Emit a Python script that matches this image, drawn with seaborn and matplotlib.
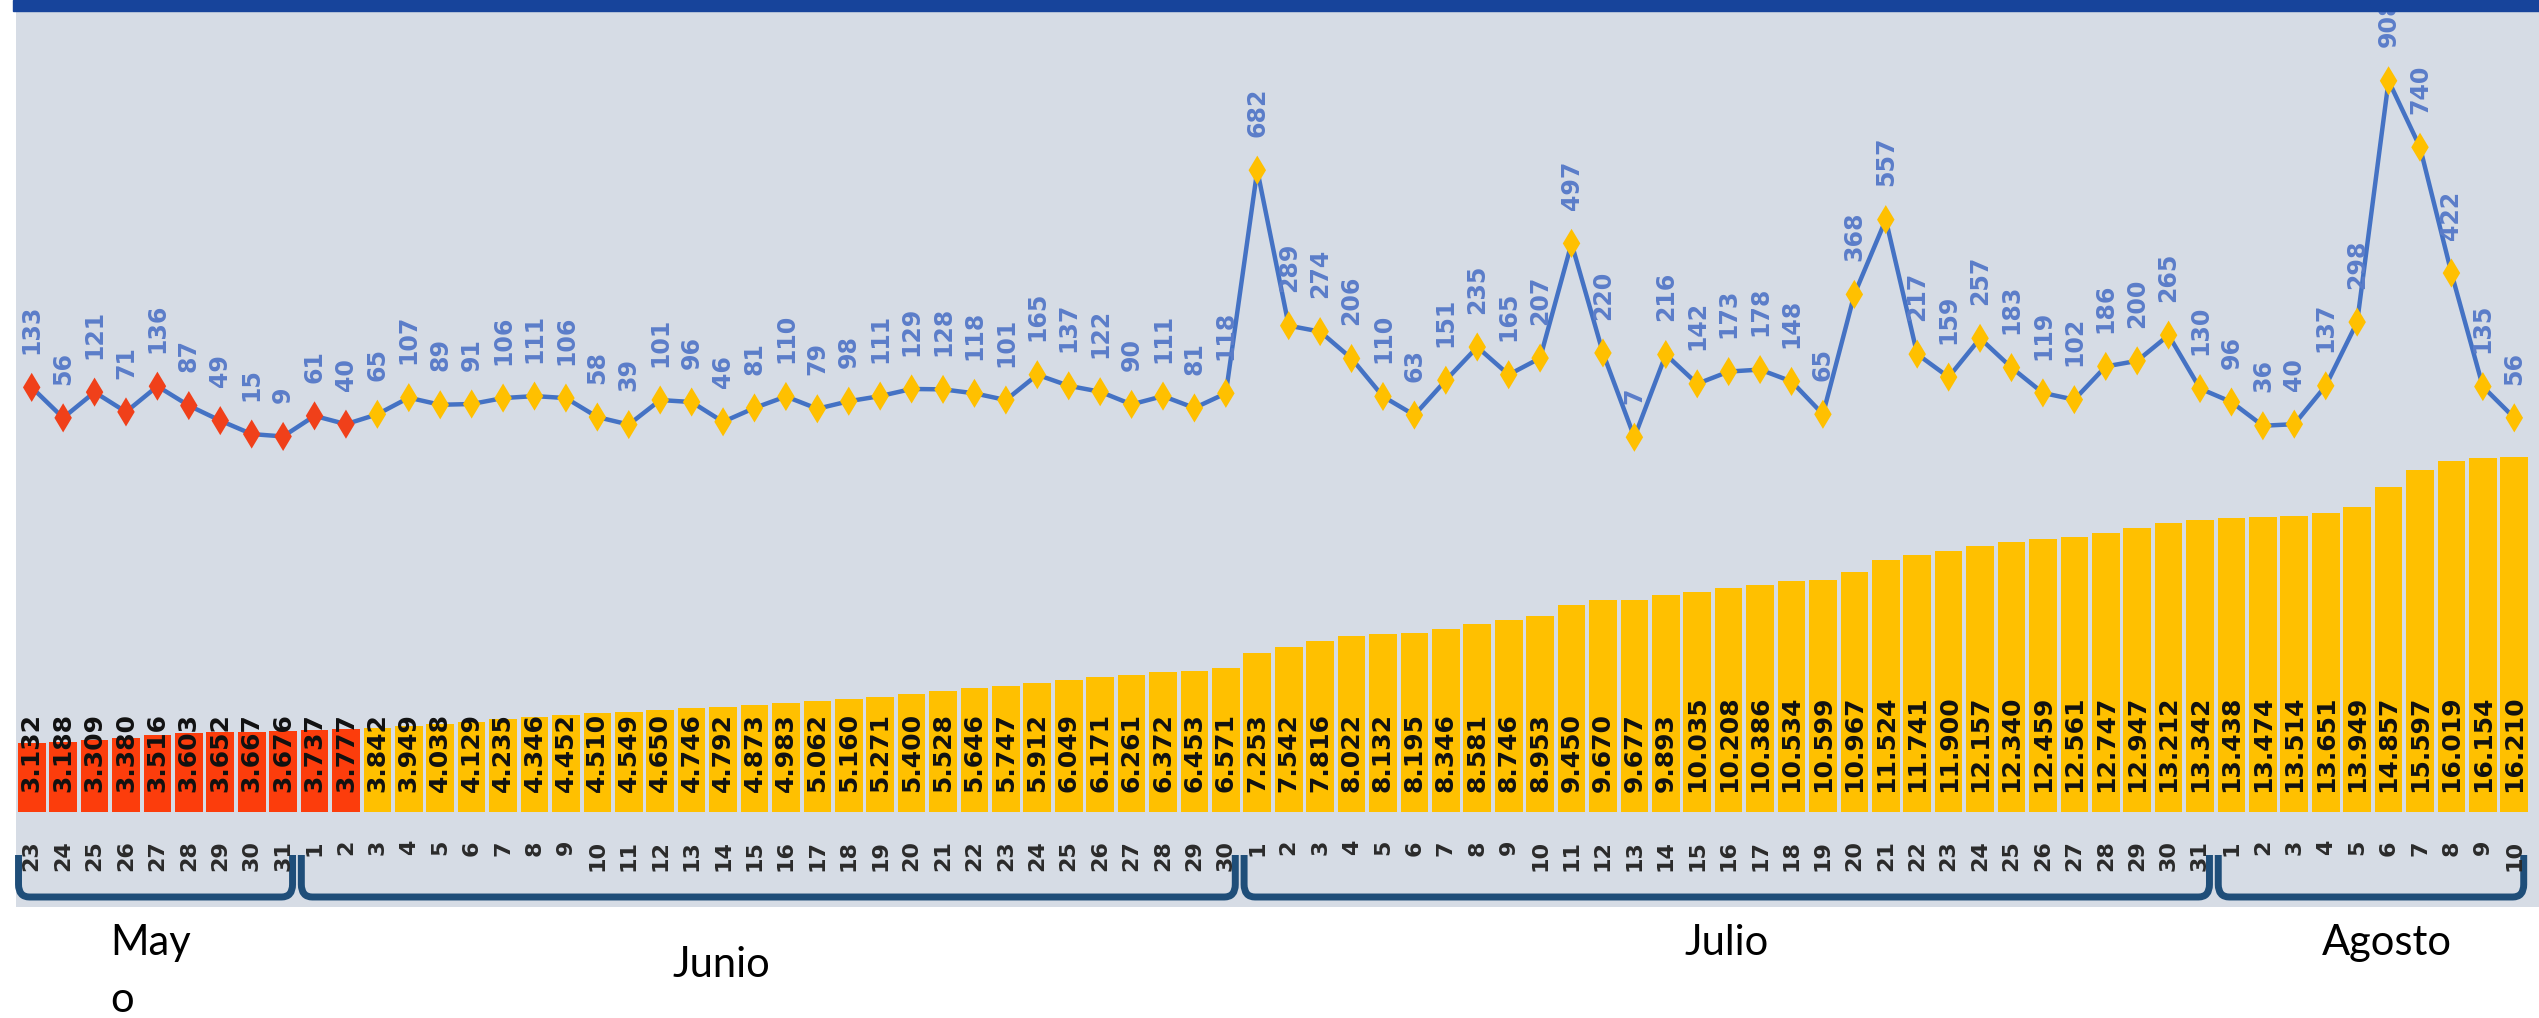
import numpy as np
import matplotlib.pyplot as plt
import seaborn as sns
import pandas as pd
from matplotlib.path import Path
from matplotlib.patches import PathPatch, Rectangle

# Daily data: new cases (line) and cumulative cases (bars), 23 May - 10 Aug
meses = ['May\no', 'Junio', 'Julio', 'Agosto']
dias_mayo = list(range(23, 32))
dias_junio = list(range(1, 31))
dias_julio = list(range(1, 32))
dias_agosto = list(range(1, 11))
dias = dias_mayo + dias_junio + dias_julio + dias_agosto

nuevos = [133, 56, 121, 71, 136, 87, 49, 15, 9,
          61, 40, 65, 107, 89, 91, 106, 111, 106, 58,
          39, 101, 96, 46, 81, 110, 79, 98, 111, 129,
          128, 118, 101, 165, 137, 122, 90, 111, 81, 118,
          682, 289, 274, 206, 110, 63, 151, 235, 165, 207,
          497, 220, 7, 216, 142, 173, 178, 148, 65, 368,
          557, 217, 159, 257, 183, 119, 102, 186, 200, 265, 130,
          96, 36, 40, 137, 298, 908, 740, 422, 135, 56]

acumulados = [3132, 3188, 3309, 3380, 3516, 3603, 3652, 3667, 3676,
              3737, 3777, 3842, 3949, 4038, 4129, 4235, 4346, 4452, 4510,
              4549, 4650, 4746, 4792, 4873, 4983, 5062, 5160, 5271, 5400,
              5528, 5646, 5747, 5912, 6049, 6171, 6261, 6372, 6453, 6571,
              7253, 7542, 7816, 8022, 8132, 8195, 8346, 8581, 8746, 8953,
              9450, 9670, 9677, 9893, 10035, 10208, 10386, 10534, 10599, 10967,
              11524, 11741, 11900, 12157, 12340, 12459, 12561, 12747, 12947, 13212, 13342,
              13438, 13474, 13514, 13651, 13949, 14857, 15597, 16019, 16154, 16210]

dias_en_rojo = 11  # first days highlighted in red

pos = np.arange(len(dias))
etapa = ['rojo' if i < dias_en_rojo else 'amarillo' for i in pos]
df = pd.DataFrame({'pos': pos, 'dia': dias, 'nuevos': nuevos,
                   'acumulados': acumulados, 'etapa': etapa})

sns.set_style('white')
plt.rcParams['font.family'] = ['DejaVu Sans']

W, H = 2539, 1018
fig = plt.figure(figsize=(W / 100, H / 100), dpi=100)
fig.patch.set_facecolor('white')

# axes covers the grey panel (pixel box: x 16..2539, y 11..907)
ax = fig.add_axes([16 / W, 1 - 907 / H, (W - 16) / W, 896 / H])
ax.set_facecolor('#d6dce5')

bar_pal = {'rojo': '#fc3d0c', 'amarillo': '#ffc000'}
sns.barplot(data=df, x='pos', y='acumulados', hue='etapa', palette=bar_pal,
            dodge=False, width=0.88, saturation=1, legend=False, ax=ax,
            linewidth=0)

ax2 = ax.twinx()
sns.lineplot(data=df, x='pos', y='nuevos', color='#4472c4', linewidth=3.2,
             ax=ax2, zorder=2)
mk_pal = {'rojo': '#f0401a', 'amarillo': '#ffc000'}
sns.scatterplot(data=df, x='pos', y='nuevos', hue='etapa', palette=mk_pal,
                marker='d', s=220, linewidth=0, legend=False, ax=ax2, zorder=3)

slot = (2530 - 16) / len(dias)
x_right = -0.5 + (W - 16) / slot
for a in (ax, ax2):
    a.set_xlim(-0.5, x_right)
    a.set_xticks([])
    a.set_yticks([])
    a.set_xlabel('')
    a.set_ylabel('')
    for s in a.spines.values():
        s.set_visible(False)

# bar zero at y=812px, 0.0219 px per case
ax.set_ylim(-95 / 0.0219, 801 / 0.0219)
# line zero at y=440px, 0.3956 px per case
ax2.set_ylim(-467 / 0.3956, 429 / 0.3956)

# cumulative labels inside bars
for i, v in zip(pos, acumulados):
    ax.text(i, 900, f'{v:,}'.replace(',', '.'), rotation=90, ha='center',
            va='bottom', fontsize=18, fontweight='bold', color='#111111')

# daily labels above markers
for i, v in zip(pos, nuevos):
    ax2.annotate(str(v), (i, v), xytext=(0, 24), textcoords='offset points',
                 rotation=90, ha='center', va='bottom', fontsize=17,
                 fontweight='bold', color='#5b7dc9')

# day numbers under the bars
xt = ax.get_xaxis_transform()
for i, d in zip(pos, dias):
    ax.text(i, (907 - 840) / 896, str(d), transform=xt, rotation=90,
            ha='center', va='top', fontsize=16, fontweight='bold',
            color='#2a2a2a')

# month brackets
grupos = [dias_mayo, dias_junio, dias_julio, dias_agosto]
y_top, y_bot, ry, rx = (907 - 855) / 896, (907 - 897) / 896, 0.014, 0.35
inicio = 0
for g in grupos:
    x0, x1 = inicio - 0.42, inicio + len(g) - 1 + 0.3
    verts = [(x0, y_top), (x0, y_bot + ry), (x0, y_bot), (x0 + rx, y_bot),
             (x1 - rx, y_bot), (x1, y_bot), (x1, y_bot + ry), (x1, y_top)]
    codes = [Path.MOVETO, Path.LINETO, Path.CURVE3, Path.CURVE3,
             Path.LINETO, Path.CURVE3, Path.CURVE3, Path.LINETO]
    ax.add_patch(PathPatch(Path(verts, codes), transform=xt, fill=False,
                           edgecolor='#1f4e79', linewidth=5, clip_on=False,
                           capstyle='butt', joinstyle='round'))
    inicio += len(g)

# month names below the panel (pixel position of the top-left corner)
mes_px = [(110, 924), (672, 946), (1684, 924), (2322, 924)]
for nombre, (px, py) in zip(meses, mes_px):
    fig.text(px / W, 1 - py / H, nombre, ha='left', va='top', fontsize=30,
             family='Lato', color='black', linespacing=1.6,
             multialignment='left')

# dark blue band at the top
fig.patches.append(Rectangle((13 / W, 1 - 11 / H), 1, 11 / H,
                             transform=fig.transFigure, color='#17449b',
                             zorder=10))

fig.savefig('out.png', dpi=100)
